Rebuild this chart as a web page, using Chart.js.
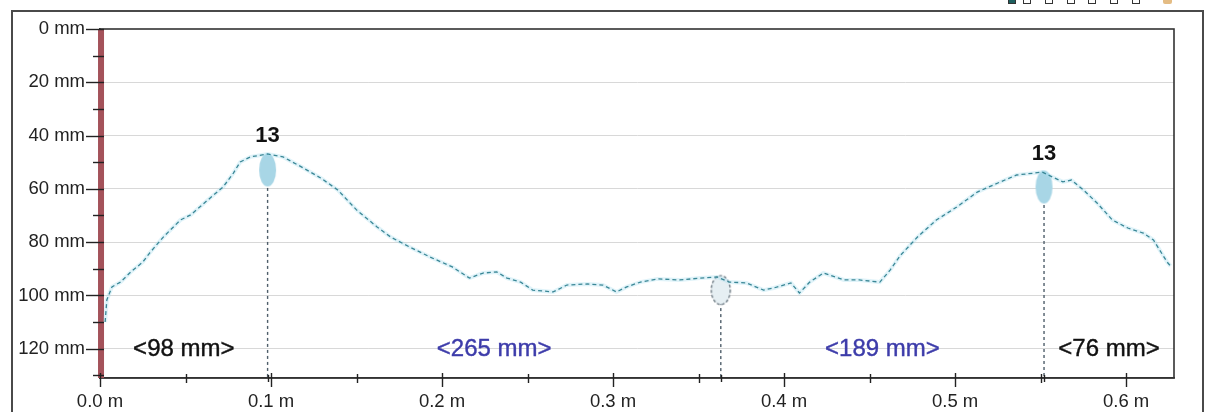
<!DOCTYPE html>
<html>
<head>
<meta charset="utf-8">
<script src="https://cdn.jsdelivr.net/npm/chart.js@4/dist/chart.umd.min.js"></script>
<style>
  html, body { margin: 0; padding: 0; background: #fff; width: 1205px; height: 412px; overflow: hidden; }
  #frame { position: absolute; left: 11px; top: 10px; width: 1193px; height: 420px; border: 2px solid #4a4a4a; box-sizing: border-box; }
  #c { position: absolute; left: 0; top: 0; }
  .sq { position: absolute; top: -4px; width: 8px; height: 8px; border: 1.5px solid #333; background: #fff; box-sizing: border-box; }
  .sq.on { background: #1d5f5f; }
  #ico { position: absolute; left: 1163px; top: -3px; width: 9px; height: 7px; background: #d8a050; border-radius: 2px; opacity: 0.7; }
</style>
</head>
<body>
<div id="frame"></div>
<div class="sq on" style="left:1008px"></div>
<div class="sq" style="left:1023px"></div>
<div class="sq" style="left:1045px"></div>
<div class="sq" style="left:1067px"></div>
<div class="sq" style="left:1088px"></div>
<div class="sq" style="left:1110px"></div>
<div class="sq" style="left:1132px"></div>
<div id="ico"></div>
<canvas id="c" width="1205" height="412"></canvas>
<script>
// ---- data ----
const profileX = [0.003, 0.004, 0.007, 0.012, 0.018, 0.025, 0.029, 0.037, 0.047, 0.053, 0.063, 0.072, 0.078, 0.082, 0.088, 0.098, 0.107, 0.119, 0.129, 0.139, 0.150, 0.162, 0.170, 0.181, 0.193, 0.206, 0.216, 0.224, 0.232, 0.238, 0.246, 0.253, 0.265, 0.273, 0.285, 0.294, 0.302, 0.308, 0.316, 0.326, 0.339, 0.351, 0.361, 0.368, 0.378, 0.388, 0.394, 0.404, 0.409, 0.415, 0.423, 0.435, 0.444, 0.456, 0.462, 0.468, 0.478, 0.489, 0.501, 0.513, 0.525, 0.536, 0.546, 0.551, 0.557, 0.563, 0.568, 0.575, 0.583, 0.592, 0.601, 0.610, 0.616, 0.624, 0.626];
const profileY = [110, 101.7, 96.8, 95.0, 91.2, 87.5, 84.1, 78.1, 71.7, 69.8, 64.2, 59.3, 54.1, 49.9, 48.0, 46.9, 48.0, 52.2, 55.9, 60.4, 67.9, 74.3, 78.1, 81.8, 85.6, 89.3, 93.5, 91.6, 91.2, 93.5, 95.0, 98.0, 98.7, 96.1, 95.7, 96.1, 98.7, 96.8, 95.0, 93.8, 94.2, 93.5, 93.1, 95.0, 95.3, 98.0, 97.2, 95.3, 99.1, 95.0, 91.6, 94.2, 94.2, 95.0, 90.5, 85.0, 78.1, 71.7, 66.8, 61.2, 57.8, 54.8, 54.1, 53.7, 55.6, 57.4, 56.7, 60.4, 65.3, 71.7, 74.7, 76.6, 79.2, 87.5, 89.0];

const spansMm = [98, 265, 189, 76];
const spanLabels = ['<98 mm>', '<265 mm>', '<189 mm>', '<76 mm>'];
const markerY = [52.9, 98.0, 59.3];
const markerLabels = ['13', '', '13'];
const spanLabelDepth = 120;

const yTickValues = [0, 10, 20, 30, 40, 50, 60, 70, 80, 90, 100, 110, 120, 130];
const yLabelValues = [0, 20, 40, 60, 80, 100, 120];
const xTickValues = [0, 0.05, 0.1, 0.15, 0.2, 0.25, 0.3, 0.35, 0.4, 0.45, 0.5, 0.55, 0.6];
const xLabelValues = [0, 0.1, 0.2, 0.3, 0.4, 0.5, 0.6];
const yMax = 131;

// derived
const bounds = [0];
spansMm.forEach(s => bounds.push(bounds[bounds.length - 1] + s / 1000));
const xMax = bounds[bounds.length - 1];
const markerX = bounds.slice(1, bounds.length - 1);

// ---- styles ----
const FONT = '"Liberation Sans", Arial, sans-serif';
const spanColors = ['#111111', '#3d3caa', '#3d3caa', '#111111'];
function ellipseImg(w, h, fill, stroke) {
  const c = document.createElement('canvas');
  c.width = w + 4; c.height = h + 4;
  const g = c.getContext('2d');
  g.beginPath();
  g.ellipse(c.width / 2, c.height / 2, w / 2, h / 2, 0, 0, Math.PI * 2);
  g.fillStyle = fill; g.fill();
  if (stroke) { g.setLineDash([3, 2]); g.strokeStyle = stroke; g.lineWidth = 1.2; g.stroke(); }
  return c;
}
const markerImgs = [
  ellipseImg(17, 33, '#a8d6e6'),
  ellipseImg(19, 29, '#e6eff3', '#5a6872'),
  ellipseImg(17, 33, '#a8d6e6')
];

const profile = profileX.map((x, i) => ({ x, y: profileY[i] }));
const markers = markerX.map((x, i) => ({ x, y: markerY[i] }));

const stems = markerX.map((x, i) => ({
  data: [{ x, y: markerY[i] }, { x, y: yMax }],
  borderColor: '#4f5e6a', borderWidth: 1.4, borderDash: [3, 3],
  pointRadius: 0, fill: false, tension: 0, order: 4
}));

const overlay = {
  id: 'overlay',
  beforeDatasetsDraw(chart) {
    const { ctx, chartArea: a } = chart;
    ctx.save();
    ctx.strokeStyle = '#333';
    ctx.lineWidth = 1.6;
    ctx.strokeRect(a.left, a.top, a.right - a.left, a.bottom - a.top);
    ctx.restore();
  },
  afterDraw(chart) {
    const { ctx, chartArea: a, scales } = chart;
    const xs = scales.x, ys = scales.y;
    ctx.save();
    // y ticks (crossing)
    ctx.lineWidth = 1.4;
    ctx.strokeStyle = '#222';
    yTickValues.forEach(v => {
      const py = Math.round(ys.getPixelForValue(v)) + 0.5;
      const major = yLabelValues.includes(v);
      ctx.beginPath();
      ctx.moveTo(a.left - (major ? 14 : 7), py);
      ctx.lineTo(a.left + 4, py);
      ctx.stroke();
    });
    // x ticks (crossing)
    xTickValues.forEach(v => {
      const px = Math.round(xs.getPixelForValue(v)) + 0.5;
      const major = xLabelValues.some(l => Math.abs(l - v) < 1e-9);
      ctx.beginPath();
      ctx.moveTo(px, a.bottom - (major ? 5 : 4));
      ctx.lineTo(px, a.bottom + (major ? 9 : 5));
      ctx.stroke();
    });
    markerX.forEach(v => {
      const px = Math.round(xs.getPixelForValue(v)) + 0.5;
      ctx.beginPath();
      ctx.moveTo(px, a.bottom - 3);
      ctx.lineTo(px, a.bottom + 4);
      ctx.stroke();
    });
    // span labels
    ctx.font = '24px ' + FONT;
    ctx.textAlign = 'center';
    ctx.textBaseline = 'middle';
    ctx.lineWidth = 0.4;
    spanLabels.forEach((t, i) => {
      const cx = xs.getPixelForValue((bounds[i] + bounds[i + 1]) / 2);
      const cy = ys.getPixelForValue(spanLabelDepth);
      ctx.fillStyle = spanColors[i];
      ctx.strokeStyle = spanColors[i];
      ctx.fillText(t, cx, cy + 1);
      ctx.strokeText(t, cx, cy + 1);
    });
    // marker labels
    const meta = chart.getDatasetMeta(2);
    ctx.font = 'bold 22px ' + FONT;
    ctx.textBaseline = 'bottom';
    ctx.fillStyle = '#111';
    meta.data.forEach((el, i) => {
      if (!markerLabels[i]) return;
      const h = markerImgs[i].height;
      ctx.fillText(markerLabels[i], el.x, el.y - h / 2 - 4);
    });
    ctx.restore();
  }
};

new Chart(document.getElementById('c'), {
  type: 'line',
  data: {
    datasets: [
      {
        data: profile, borderColor: '#3a8796', borderWidth: 1.3, borderDash: [4, 3],
        pointRadius: 0, tension: 0, order: 0
      },
      {
        data: profile, borderColor: 'rgba(165,222,238,0.35)', borderWidth: 4,
        pointRadius: 0, tension: 0, order: 1
      },
      {
        data: markers, showLine: false,
        pointStyle: markerImgs, pointRadius: 10, pointHoverRadius: 10, order: 2
      },
      ...stems,
      {
        data: [{ x: 0.0006, y: 0 }, { x: 0.0006, y: yMax }],
        borderColor: '#a4525a', borderWidth: 6, pointRadius: 0, tension: 0, order: 3,
        clip: false
      }
    ]
  },
  options: {
    responsive: false,
    animation: false,
    events: [],
    layout: { padding: { left: 0, top: 29, right: 31, bottom: 0 } },
    plugins: { legend: { display: false }, tooltip: { enabled: false } },
    scales: {
      x: {
        type: 'linear', min: 0, max: xMax,
        afterBuildTicks(s) { s.ticks = xTickValues.map(v => ({ value: v })); },
        afterFit(s) { s.height = 34; },
        grid: { display: false, drawTicks: false },
        border: { display: true, color: '#333', width: 1.6 },
        ticks: {
          autoSkip: false, maxRotation: 0, padding: 13, color: '#222',
          font: { family: FONT, size: 18.5 },
          callback: v => xLabelValues.some(l => Math.abs(l - v) < 1e-9) ? v.toFixed(1) + ' m' : ''
        }
      },
      y: {
        type: 'linear', min: 0, max: yMax, reverse: true,
        afterBuildTicks(s) { s.ticks = yTickValues.map(v => ({ value: v })); },
        afterFit(s) { s.width = 100; },
        grid: {
          drawTicks: false,
          color: c => (c.tick && yLabelValues.includes(c.tick.value) && c.tick.value !== 0) ? '#d8d8d8' : 'rgba(0,0,0,0)',
          lineWidth: 1
        },
        border: { display: true, color: '#333', width: 1.6 },
        ticks: {
          autoSkip: false, padding: 15, color: '#222',
          font: { family: FONT, size: 18.5 },
          callback: v => yLabelValues.includes(v) ? v + ' mm' : ''
        }
      }
    }
  },
  plugins: [overlay]
});
</script>
</body>
</html>
